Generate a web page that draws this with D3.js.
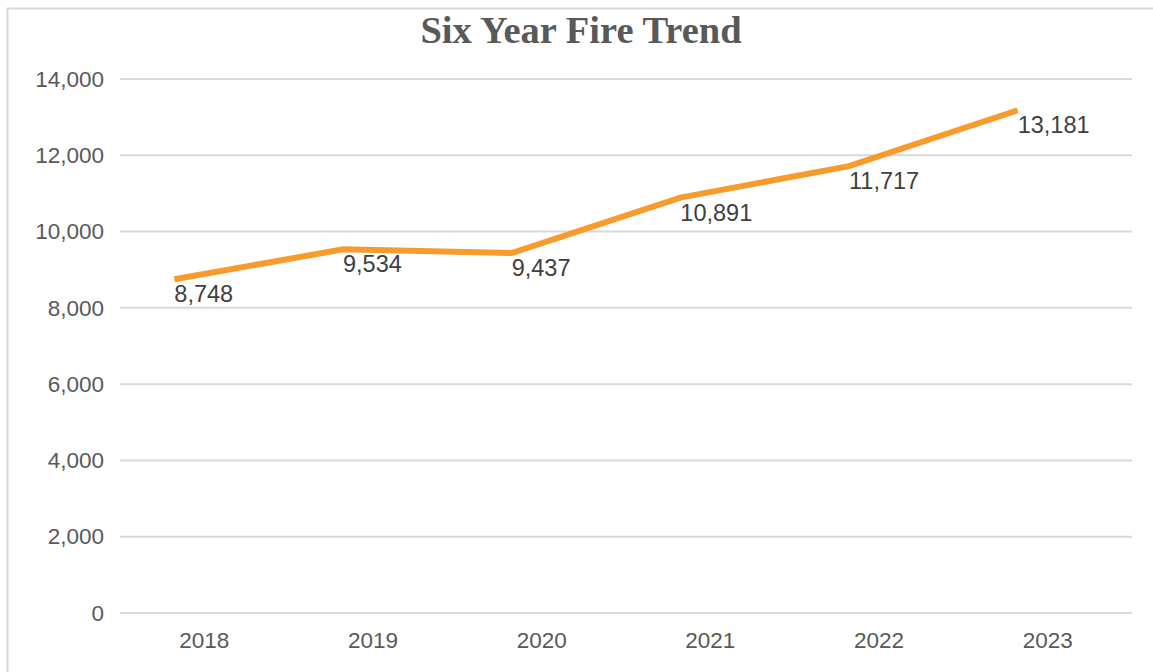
<!DOCTYPE html>
<html>
<head>
<meta charset="utf-8">
<script src="https://cdn.jsdelivr.net/npm/d3@7/dist/d3.min.js"></script>
<style>
  html, body { margin: 0; padding: 0; background: #ffffff; }
  svg { display: block; }
</style>
</head>
<body>
<svg id="chart" width="1153" height="672"></svg>
<script>
// Annual fire counts
const years = ["2018", "2019", "2020", "2021", "2022", "2023"];
const fires = [8748, 9534, 9437, 10891, 11717, 13181];
const yTicks = [0, 2000, 4000, 6000, 8000, 10000, 12000, 14000];
const chartTitle = "Six Year Fire Trend";

const W = 1153, H = 672;
const plot = { left: 120, right: 1132, top: 79, bottom: 613 };

const svg = d3.select("#chart");

// outer frame of the chart area
svg.append("rect")
  .attr("x", 7.5).attr("y", 8.5)
  .attr("width", W + 20).attr("height", H + 20)
  .attr("fill", "#ffffff")
  .attr("stroke", "#d9d9d9").attr("stroke-width", 2);

const x = d3.scaleBand().domain(years).range([plot.left, plot.right]);
const y = d3.scaleLinear().domain([0, 14000]).range([plot.bottom, plot.top]);

// line vertices sit a little left of each category centre
const lineShift = -30;
const px = d => x(d) + x.bandwidth() / 2 + lineShift;

// gridlines
svg.append("g")
  .selectAll("line")
  .data(yTicks)
  .join("line")
  .attr("x1", plot.left).attr("x2", plot.right)
  .attr("y1", d => y(d)).attr("y2", d => y(d))
  .attr("stroke", "#d9d9d9").attr("stroke-width", 2);

// y axis labels
const yAxis = d3.axisLeft(y)
  .tickValues(yTicks)
  .tickFormat(d3.format(","))
  .tickSize(0)
  .tickPadding(0);
const gy = svg.append("g")
  .attr("transform", `translate(${plot.left - 16},0)`)
  .call(yAxis);
gy.select(".domain").remove();
gy.selectAll("text")
  .attr("font-family", "'Liberation Sans', Arial, sans-serif")
  .attr("font-size", 22.5)
  .attr("fill", "#595959");

// x axis labels
const xAxis = d3.axisBottom(x).tickSize(0).tickPadding(0);
const gx = svg.append("g")
  .attr("transform", `translate(0,${plot.bottom})`)
  .call(xAxis);
gx.select(".domain").remove();
gx.selectAll("text")
  .attr("dy", null)
  .attr("y", 35)
  .attr("font-family", "'Liberation Sans', Arial, sans-serif")
  .attr("font-size", 22.5)
  .attr("fill", "#595959");

// trend line
const data = years.map((yr, i) => ({ year: yr, value: fires[i] }));
const line = d3.line()
  .x(d => px(d.year))
  .y(d => y(d.value));

svg.append("path")
  .datum(data)
  .attr("d", line)
  .attr("fill", "none")
  .attr("stroke", "#f89b2d")
  .attr("stroke-width", 6)
  .attr("stroke-linejoin", "miter")
  .attr("stroke-linecap", "butt");

// value labels
svg.append("g")
  .selectAll("text")
  .data(data)
  .join("text")
  .attr("x", d => px(d.year))
  .attr("y", d => y(d.value) + 23)
  .attr("text-anchor", "start")
  .attr("font-family", "'Liberation Sans', Arial, sans-serif")
  .attr("font-size", 23.5)
  .attr("fill", "#404040")
  .text(d => d3.format(",")(d.value));

// title
svg.append("text")
  .attr("x", 581)
  .attr("y", 43)
  .attr("text-anchor", "middle")
  .attr("font-family", "'Liberation Serif', 'Times New Roman', serif")
  .attr("font-weight", "bold")
  .attr("font-size", 38.5)
  .attr("fill", "#595959")
  .text(chartTitle);
</script>
</body>
</html>
